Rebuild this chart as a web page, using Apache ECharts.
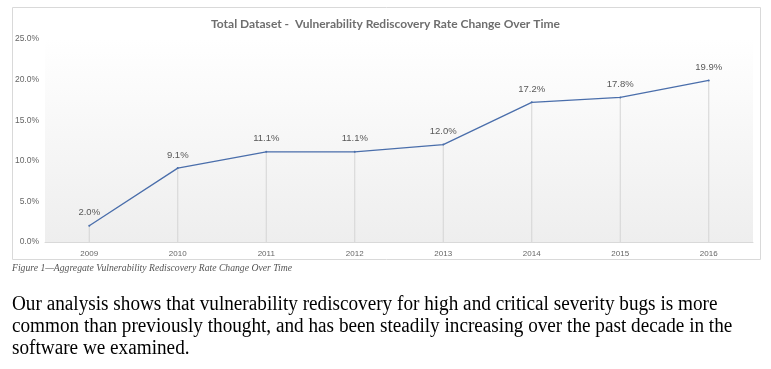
<!DOCTYPE html>
<html><head><meta charset="utf-8">
<script src="https://cdn.jsdelivr.net/npm/echarts@6/dist/echarts.min.js"></script>
<style>html,body{margin:0;padding:0;background:#fff}#c{width:771px;height:369px}</style>
</head><body><div id="c"></div>
<script>
const years = ['2009','2010','2011','2012','2013','2014','2015','2016'];
const rates = [2.0, 9.1, 11.1, 11.1, 12.0, 17.2, 17.8, 19.9];
const yTicks = [0, 5, 10, 15, 20, 25];
const chartTitle = 'Total Dataset -  Vulnerability Rediscovery Rate Change Over Time';
const caption = 'Figure 1\u2014Aggregate Vulnerability Rediscovery Rate Change Over Time';
const bodyLines = [
  'Our analysis shows that vulnerability rediscovery for high and critical severity bugs is more',
  'common than previously thought, and has been steadily increasing over the past decade in the',
  'software we examined.'
];

const chart = echarts.init(document.getElementById('c'), null, {renderer:'canvas'});
chart.setOption({
  animation:false,
  title:{text:chartTitle,left:'center',top:13,
    textStyle:{fontFamily:'Lato',fontWeight:'bold',fontSize:12,color:'#6e6e6e'}},
  grid:{left:45,right:18,top:39,bottom:127,
    show:true,borderWidth:0,
    backgroundColor:new echarts.graphic.LinearGradient(0,0,0,1,[{offset:0,color:'#ffffff'},{offset:1,color:'#eeeeee'}])},
  xAxis:{type:'category',data:years,boundaryGap:true,
    axisLine:{lineStyle:{color:'#d9d9d9'}},axisTick:{show:false},
    axisLabel:{color:'#666',fontSize:8,fontFamily:'Liberation Sans',margin:8}},
  yAxis:{type:'value',min:0,max:25,interval:5,
    axisLine:{show:false},axisTick:{show:false},splitLine:{show:false},
    axisLabel:{color:'#666',fontSize:8.5,fontFamily:'Liberation Sans',margin:6,
      formatter:v=>v.toFixed(1)+'%',customValues:yTicks}},
  series:[
    {type:'bar',data:rates,barWidth:1,itemStyle:{color:'#d4d4d4'},silent:true,barGap:'-100%'},
    {type:'line',data:rates,symbol:'circle',symbolSize:2,itemStyle:{color:'#4a6eab'},
      lineStyle:{color:'#4a6eab',width:1.3},
      label:{show:true,position:'top',distance:7,color:'#595959',fontSize:9.5,fontFamily:'Liberation Sans',
        formatter:p=>p.value.toFixed(1)+'%'}}
  ],
  graphic:[
    {type:'rect',shape:{x:12.5,y:7.5,width:748,height:252},style:{fill:'none',stroke:'#d9d9d9',lineWidth:1}},
    {type:'text',x:12,y:268,scaleX:0.88,style:{text:caption,font:'italic 11px "Liberation Serif"',fill:'#555',verticalAlign:'middle'}},
    {type:'text',x:12,y:305,scaleX:0.96,style:{text:bodyLines[0],font:'20px "Liberation Serif"',fill:'#000',verticalAlign:'middle'}},
    {type:'text',x:12,y:327,scaleX:0.96,style:{text:bodyLines[1],font:'20px "Liberation Serif"',fill:'#000',verticalAlign:'middle'}},
    {type:'text',x:12,y:349,scaleX:0.96,style:{text:bodyLines[2],font:'20px "Liberation Serif"',fill:'#000',verticalAlign:'middle'}}
  ]
});
</script></body></html>
